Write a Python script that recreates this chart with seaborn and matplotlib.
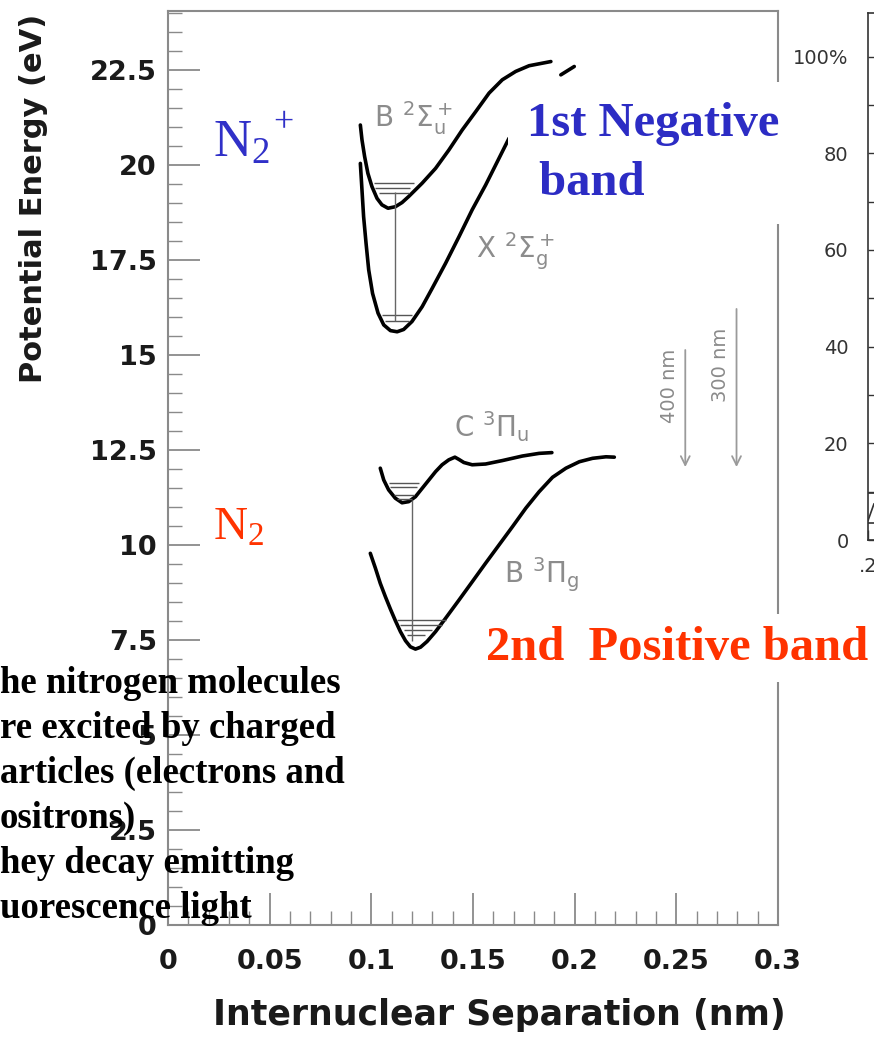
import matplotlib
matplotlib.use("Agg")
import matplotlib.pyplot as plt
import seaborn as sns
from matplotlib.ticker import MultipleLocator

# Potential energy curves (x in nm, y in eV)
ion_b_x = [0.0946, 0.0954, 0.0967, 0.0983, 0.1003, 0.1028, 0.1052, 0.1082, 0.1118, 0.1151,
           0.1184, 0.1250, 0.1316, 0.1381, 0.1447, 0.1513, 0.1579, 0.1644, 0.1710, 0.1776, 0.1883]
ion_b_y = [21.05, 20.66, 20.22, 19.78, 19.43, 19.12, 18.95, 18.86, 18.90, 19.01,
           19.17, 19.52, 19.91, 20.39, 20.92, 21.40, 21.89, 22.24, 22.46, 22.61, 22.72]
ion_b_tail_x = [0.1932, 0.1998]
ion_b_tail_y = [22.37, 22.59]

ion_x_x = [0.0946, 0.0954, 0.0962, 0.0974, 0.0987, 0.1006, 0.1033, 0.1061, 0.1094, 0.1127,
           0.1159, 0.1200, 0.1250, 0.1299, 0.1365, 0.1431, 0.1496, 0.1562, 0.1620, 0.1677]
ion_x_y = [20.04, 19.34, 18.64, 17.94, 17.24, 16.62, 16.10, 15.79, 15.64, 15.61,
           15.67, 15.88, 16.27, 16.75, 17.41, 18.11, 18.82, 19.47, 20.09, 20.70]

n2_c_x = [0.1044, 0.1061, 0.1085, 0.1118, 0.1151, 0.1184, 0.1217, 0.1250, 0.1283, 0.1316, 0.1348,
          0.1381, 0.1411, 0.1431, 0.1455, 0.1496, 0.1562, 0.1644, 0.1743, 0.1825, 0.1888]
n2_c_y = [12.02, 11.71, 11.45, 11.23, 11.11, 11.14, 11.27, 11.49, 11.71, 11.93, 12.11,
          12.24, 12.31, 12.25, 12.17, 12.11, 12.13, 12.22, 12.34, 12.41, 12.43]

n2_b_x = [0.0995, 0.1020, 0.1044, 0.1069, 0.1094, 0.1118, 0.1143, 0.1168, 0.1192, 0.1217, 0.1242,
          0.1274, 0.1316, 0.1365, 0.1431, 0.1496, 0.1562, 0.1628, 0.1694, 0.1760, 0.1825, 0.1891,
          0.1957, 0.2023, 0.2088, 0.2154, 0.2195]
n2_b_y = [9.78, 9.39, 8.99, 8.64, 8.31, 8.01, 7.72, 7.48, 7.32, 7.26, 7.31,
          7.46, 7.72, 8.07, 8.55, 9.03, 9.52, 10.00, 10.48, 10.97, 11.40, 11.78,
          12.02, 12.19, 12.28, 12.32, 12.31]

# vibrational levels: energy, left end, right end
ion_b_lev = [19.52, 19.39, 19.25]
ion_b_lev_l = [0.1011, 0.1019, 0.1036]
ion_b_lev_r = [0.1209, 0.1191, 0.1184]
ion_x_lev = [16.05, 15.88]
ion_x_lev_l = [0.1052, 0.1069]
ion_x_lev_r = [0.1200, 0.1184]
n2_c_lev = [11.64, 11.52, 11.32, 11.20]
n2_c_lev_l = [0.1085, 0.1094, 0.1110, 0.1126]
n2_c_lev_r = [0.1233, 0.1225, 0.1209, 0.1200]
n2_b_lev = [8.03, 7.89, 7.76, 7.63]
n2_b_lev_l = [0.1126, 0.1143, 0.1159, 0.1176]
n2_b_lev_r = [0.1365, 0.1348, 0.1299, 0.1266]

# transitions: x, lower, upper
trans_x = [0.1118, 0.1200]
trans_lo = [15.88, 7.46]
trans_hi = [19.30, 11.18]

# wavelength arrows
arrow_labels = ["400 nm", "300 nm"]
arrow_x = [0.2544, 0.2796]
arrow_top = [15.13, 16.21]
arrow_bottom = [12.05, 12.05]

x_ticks = [0, 0.05, 0.1, 0.15, 0.2, 0.25, 0.3]
x_tick_labels = ["0", "0.05", "0.1", "0.15", "0.2", "0.25", "0.3"]
y_ticks = [0, 2.5, 5, 7.5, 10, 12.5, 15, 17.5, 20, 22.5]
y_tick_labels = ["0", "2.5", "5", "7.5", "10", "12.5", "15", "17.5", "20", "22.5"]

# cropped neighbour chart on the right edge
side_ticks = [0, 20, 40, 60, 80, 100]
side_tick_labels = ["0", "20", "40", "60", "80", "100%"]
side_x = [0.2, 0.203]
side_low = [3.5, 3.5]
side_mid = [9.7, 9.7]
side_rise = [4.0, 7.5]

note_lines = ["he nitrogen molecules", "re excited by charged", "articles (electrons and",
              "ositrons)", "hey decay emitting", "uorescence light"]

sns.set_theme(style="white")
plt.rcParams["font.family"] = ["DejaVu Sans"]
plt.rcParams["mathtext.default"] = "regular"

W, H = 874, 1044
fig = plt.figure(figsize=(W / 100, H / 100), dpi=100)
ax = fig.add_axes([168 / W, 119 / H, 610 / W, 914 / H])

for xs, ys in [(ion_b_x, ion_b_y), (ion_b_tail_x, ion_b_tail_y), (ion_x_x, ion_x_y),
               (n2_c_x, n2_c_y), (n2_b_x, n2_b_y)]:
    sns.lineplot(x=xs, y=ys, ax=ax, color="black", lw=2.6, sort=False, estimator=None)

for lev, lo, hi in [(ion_b_lev, ion_b_lev_l, ion_b_lev_r), (ion_x_lev, ion_x_lev_l, ion_x_lev_r),
                    (n2_c_lev, n2_c_lev_l, n2_c_lev_r), (n2_b_lev, n2_b_lev_l, n2_b_lev_r)]:
    ax.hlines(lev, lo, hi, color="#555555", lw=1.0)

ax.vlines(trans_x, trans_lo, trans_hi, color="#666666", lw=1.0)

for lab, x, y0, y1 in zip(arrow_labels, arrow_x, arrow_top, arrow_bottom):
    ax.annotate("", xy=(x, y1), xytext=(x, y0),
                arrowprops=dict(arrowstyle="->", color="#9a9a9a", lw=1.3,
                                shrinkA=0, shrinkB=0, mutation_scale=16))
    ax.text(x - 0.0077, (y0 + y1) / 2 + 0.6, lab, rotation=90, ha="center", va="center",
            color="#8a8a8a", fontsize=14)

# state labels
grey = "#8c8c8c"
ax.text(0.1011, 21.0, r"B $^2\Sigma_u^+$", color=grey, fontsize=20)
ax.text(0.1515, 17.55, r"X $^2\Sigma_g^+$", color=grey, fontsize=20)
ax.text(0.1406, 12.84, r"C $^3\Pi_u$", color=grey, fontsize=20)
ax.text(0.1653, 9.0, r"B $^3\Pi_g$", color=grey, fontsize=20)

blue = "#3030c8"
red = "#ff3300"
ax.text(0.0222, 20.21, r"N$_2$", family="Liberation Serif", color=blue, fontsize=38)
ax.text(0.0518, 21.08, "+", family="Liberation Serif", color=blue, fontsize=26, va="center")
ax.text(0.0222, 10.13, r"N$_2$", family="Liberation Serif", color=red, fontsize=34)

ax.text(0.1766, 19.21, "1st Negative\n band", family="Liberation Serif", fontweight="bold",
        color="#2c2cc4", fontsize=35, linespacing=1.45,
        bbox=dict(boxstyle="square,pad=0.4", fc="white", ec="none"))
ax.text(0.1564, 6.97, "2nd  Positive band", family="Liberation Serif", fontweight="bold",
        color=red, fontsize=35,
        bbox=dict(boxstyle="square,pad=0.25", fc="white", ec="none"))

ax.set_xlim(0, 0.3)
ax.set_ylim(0, 24.05)
ax.set_xticks(x_ticks, labels=x_tick_labels, fontweight="bold")
ax.set_yticks(y_ticks, labels=y_tick_labels, fontweight="bold")
ax.xaxis.set_minor_locator(MultipleLocator(0.01))
ax.yaxis.set_minor_locator(MultipleLocator(0.5))
ax.tick_params(which="both", direction="in", bottom=True, left=True, top=False, right=False,
               color="#8a8a8a")
ax.tick_params(which="major", length=23, width=1.3, labelsize=19.5, labelcolor="#1a1a1a")
ax.tick_params(which="minor", length=10, width=1.0)
ax.tick_params(axis="x", pad=17)
ax.tick_params(axis="y", pad=8)
for sp in ax.spines.values():
    sp.set_color("#8a8a8a")
    sp.set_linewidth(1.5)

ax.set_xlabel("Internuclear Separation (nm)", fontsize=25, fontweight="bold",
              color="#1a1a1a", va="center")
ax.xaxis.set_label_coords(0.544, -0.0985)
ax.set_ylabel("Potential Energy (eV)", fontsize=22, fontweight="bold",
              color="#1a1a1a", va="center")
ax.yaxis.set_label_coords(-0.2213, 0.795)

# neighbouring chart, cut off by the right edge
ax2 = fig.add_axes([868 / W, (H - 540) / H, 6 / W, 527 / H])
sns.lineplot(x=side_x, y=side_low, ax=ax2, color="#333333", lw=1.2, estimator=None)
sns.lineplot(x=side_x, y=side_mid, ax=ax2, color="#333333", lw=1.2, estimator=None)
sns.lineplot(x=side_x, y=side_rise, ax=ax2, color="#333333", lw=1.2, estimator=None)
ax2.set_xlim(0.2, 0.203)
ax2.set_ylim(0, 109)
ax2.set_yticks(side_ticks, labels=side_tick_labels)
ax2.yaxis.set_minor_locator(MultipleLocator(10))
ax2.set_xticks([0.2], labels=[".2"])
ax2.tick_params(which="both", direction="in", left=True, bottom=True, length=7, width=1.0,
                color="#333333", labelsize=14, labelcolor="#333333")
ax2.tick_params(axis="y", pad=14)
ax2.tick_params(axis="x", pad=12)
ax2.spines["right"].set_visible(False)
for k in ["left", "top", "bottom"]:
    ax2.spines[k].set_color("#333333")
    ax2.spines[k].set_linewidth(1.2)

baselines = [693, 738, 783, 828, 873, 918]
for line, b in zip(note_lines, baselines):
    fig.text(0.0, 1 - b / H, line, family="Liberation Serif", fontweight="bold",
             fontsize=26.5, color="black", ha="left", va="baseline")

fig.savefig("out.png", dpi=100, facecolor="white")
